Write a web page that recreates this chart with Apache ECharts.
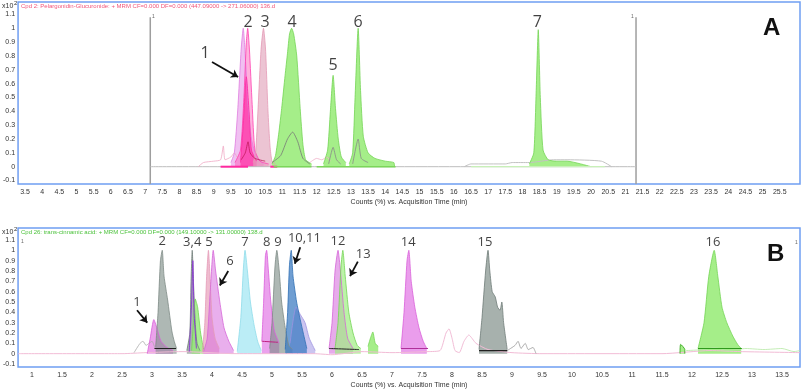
<!DOCTYPE html>
<html>
<head>
<meta charset="utf-8">
<script src="https://cdn.jsdelivr.net/npm/echarts@6/dist/echarts.min.js"></script>
<style>
  html, body { margin: 0; padding: 0; background: #fff; }
  #main { width: 803px; height: 390px; }
</style>
</head>
<body>
<div id="main"></div>
<script>
// ---- tick labels ----
var xTicksA = [3.5,4,4.5,5,5.5,6,6.5,7,7.5,8,8.5,9,9.5,10,10.5,11,11.5,12,12.5,13,13.5,14,14.5,15,15.5,16,16.5,17,17.5,18,18.5,19,19.5,20,20.5,21,21.5,22,22.5,23,23.5,24,24.5,25,25.5];
var xTicksB = [1,1.5,2,2.5,3,3.5,4,4.5,5,5.5,6,6.5,7,7.5,8,8.5,9,9.5,10,10.5,11,11.5,12,12.5,13,13.5];
var yTicks = [-0.1,0,0.1,0.2,0.3,0.4,0.5,0.6,0.7,0.8,0.9,1,1.1];

// ---- panel A : Pelargonidin-Glucuronide (time min, counts x10^2) ----
var peakA1 = [[9.5,0.03],[9.6,0.1],[9.7,0.41],[9.8,0.85],[9.86,1.0],[9.92,0.8],[10.0,0.45],[10.1,0.2],[10.25,0.07],[10.45,0.02]];
var peakA2 = [[9.62,0.03],[9.78,0.12],[9.88,0.5],[9.95,0.9],[9.99,1.0],[10.04,0.85],[10.12,0.45],[10.2,0.12],[10.35,0.04],[10.6,0.02]];
var coreA2 = [[9.78,0.03],[9.86,0.3],[9.95,0.65],[10.03,0.4],[10.1,0.12],[10.25,0.04]];
var peakA3 = [[10.15,0.03],[10.22,0.1],[10.29,0.41],[10.38,0.85],[10.45,1.0],[10.51,0.85],[10.58,0.41],[10.64,0.15],[10.7,0.04],[10.8,0.02]];
var peakA4 = [[10.7,0.02],[10.8,0.08],[10.9,0.25],[10.98,0.42],[11.08,0.66],[11.15,0.82],[11.21,0.96],[11.27,1.0],[11.33,0.96],[11.42,0.8],[11.52,0.42],[11.6,0.16],[11.68,0.05],[11.85,0.02]];
var peakA5 = [[12.2,0.02],[12.32,0.12],[12.4,0.4],[12.48,0.66],[12.55,0.42],[12.63,0.2],[12.72,0.07],[12.85,0.03]];
var peakA6 = [[12.95,0.02],[13.05,0.1],[13.12,0.5],[13.21,1.0],[13.28,0.55],[13.36,0.22],[13.5,0.1],[13.7,0.06],[14.0,0.04],[14.25,0.03],[14.27,0.0]];
var peakA7 = [[18.2,0.02],[18.33,0.1],[18.4,0.55],[18.46,0.99],[18.52,0.5],[18.6,0.12],[18.75,0.05],[19.0,0.04],[19.3,0.04],[19.7,0.02],[20.0,0.0]];
var traceA4 = [[10.7,0.03],[10.95,0.08],[11.15,0.2],[11.3,0.25],[11.45,0.18],[11.6,0.06],[11.8,0.02]];
var traceA5 = [[12.35,0.02],[12.48,0.14],[12.58,0.05],[12.7,0.02]];
var traceA6 = [[13.05,0.02],[13.21,0.2],[13.3,0.06],[13.5,0.03]];
var traceA2 = [[9.8,0.05],[9.92,0.1],[10.0,0.18],[10.06,0.1],[10.2,0.06],[10.5,0.04]];
var noiseA = [[8.55,0.0],[8.7,0.03],[9.0,0.04],[9.2,0.05],[9.28,0.15],[9.33,0.05],[9.5,0.07],[9.6,0.1],[9.7,0.06]];
var noiseA2 = [[11.8,0.03],[12.0,0.06],[12.15,0.05],[12.3,0.07],[12.4,0.04]];
var driftA = [[16.3,0.0],[16.5,0.02],[17.5,0.02],[17.7,0.03],[18.2,0.03],[18.9,0.05],[19.3,0.05],[20.3,0.04],[20.6,0.0]];
var intA1 = [[9.2,0],[10.0,0]];
var intA3 = [[10.65,0],[10.85,0]];
var intA4 = [[10.75,0],[11.85,0]];
var intA6 = [[12.0,0],[14.3,0]];
var intA7 = [[16.5,0],[20.4,0]];
var baseA = [[7.15,0],[21.31,0]];
var markerA1 = [[7.15,-0.125],[7.15,1.08]];
var markerA2 = [[21.31,-0.125],[21.31,1.08]];

// ---- panel B : trans-cinnamic acid ----
var peakB1 = [[2.92,0.0],[2.97,0.15],[3.03,0.33],[3.08,0.25],[3.15,0.12],[3.25,0.06],[3.35,0.03]];
var peakB2 = [[3.06,0.06],[3.1,0.4],[3.14,0.9],[3.17,1.0],[3.2,0.75],[3.26,0.52],[3.33,0.22],[3.37,0.12],[3.41,0.05]];
var peakB3 = [[3.58,0.03],[3.63,0.2],[3.65,0.7],[3.67,1.0],[3.69,0.7],[3.72,0.3],[3.75,0.1],[3.8,0.03]];
var peakB4 = [[3.66,0.03],[3.69,0.3],[3.72,0.53],[3.76,0.45],[3.81,0.2],[3.86,0.04]];
var lineB4 = [[3.62,0.02],[3.66,0.5],[3.68,0.9],[3.7,0.4],[3.74,0.05]];
var peakB5 = [[3.84,0.02],[3.88,0.3],[3.91,0.75],[3.94,1.0],[3.97,0.7],[4.0,0.35],[4.05,0.15],[4.12,0.05]];
var peakB6 = [[3.86,0.02],[3.92,0.15],[3.97,0.6],[4.02,1.0],[4.06,0.8],[4.13,0.5],[4.2,0.25],[4.28,0.12],[4.36,0.03]];
var peakB7 = [[4.42,0.02],[4.48,0.35],[4.52,0.8],[4.55,1.0],[4.59,0.8],[4.64,0.5],[4.7,0.28],[4.76,0.12],[4.82,0.03]];
var peakB8 = [[4.83,0.12],[4.86,0.5],[4.89,0.95],[4.91,1.0],[4.94,0.8],[4.98,0.5],[5.04,0.22],[5.12,0.1]];
var peakB9 = [[4.96,0.05],[5.0,0.3],[5.05,0.85],[5.08,1.0],[5.12,0.8],[5.16,0.5],[5.22,0.25],[5.28,0.08],[5.34,0.04]];
var peakB10 = [[5.22,0.04],[5.26,0.4],[5.29,0.85],[5.32,1.0],[5.35,0.75],[5.41,0.5],[5.47,0.33],[5.52,0.2],[5.58,0.05]];
var peakB11 = [[5.3,0.1],[5.4,0.45],[5.47,0.38],[5.55,0.3],[5.62,0.15],[5.72,0.03]];
var peakB12 = [[5.95,0.05],[6.0,0.3],[6.05,0.8],[6.1,1.0],[6.14,0.8],[6.2,0.4],[6.26,0.15],[6.35,0.05]];
var peakB13 = [[6.05,0.05],[6.1,0.3],[6.15,0.85],[6.18,1.0],[6.22,0.75],[6.28,0.4],[6.35,0.2],[6.42,0.08],[6.48,0.05]];
var bumpB13 = [[6.6,0.07],[6.64,0.15],[6.68,0.21],[6.72,0.1],[6.77,0.07]];
var peakB14 = [[7.15,0.05],[7.2,0.4],[7.25,0.9],[7.28,1.0],[7.32,0.7],[7.38,0.45],[7.45,0.25],[7.52,0.12],[7.58,0.05]];
var peakB15 = [[8.45,0.04],[8.5,0.35],[8.56,0.8],[8.6,1.0],[8.63,0.8],[8.67,0.6],[8.72,0.55],[8.76,0.45],[8.8,0.42],[8.83,0.5],[8.86,0.3],[8.92,0.04]];
var bumpB16 = [[11.8,0.0],[11.81,0.09],[11.88,0.04],[11.88,0.0]];
var peakB16 = [[12.1,0.05],[12.2,0.3],[12.28,0.75],[12.37,1.0],[12.43,0.75],[12.5,0.45],[12.58,0.3],[12.68,0.17],[12.76,0.09],[12.82,0.05]];
var baseB = [[0.77,0.0],[2.5,0.0],[2.9,0.01],[3.5,0.02],[4.4,0.0],[5.7,0.0],[6.0,-0.01],[6.5,0.02],[7.0,0.01],[7.6,0.02],[7.8,0.03],[7.9,0.2],[7.95,0.24],[8.0,0.15],[8.05,0.03],[8.12,0.01],[8.2,0.12],[8.28,0.18],[8.4,0.1],[8.6,0.04],[9.0,0.01],[9.5,0.0],[11.5,0.0],[12.3,0.03],[12.8,0.02],[13.8,0.01]];
var noiseB1 = [[2.7,0.01],[2.8,0.1],[2.85,0.12],[2.9,0.08],[2.95,0.1],[3.0,0.12],[3.05,0.05]];
var noiseB15 = [[8.92,0.03],[9.05,0.08],[9.1,0.12],[9.15,0.05],[9.22,0.1],[9.27,0.04],[9.35,0.06],[9.4,0.0]];
var noiseB16 = [[11.9,0.03],[12.2,0.04],[12.37,0.06],[12.6,0.03],[12.9,0.05],[13.2,0.04],[13.5,0.05],[13.7,0.02],[13.8,0.03]];
var intB2 = [[3.04,0.05],[3.4,0.05]];
var intB15 = [[8.45,0.03],[8.92,0.03]];
var intB14 = [[7.15,0.05],[7.6,0.05]];
var intB16 = [[12.1,0.05],[12.83,0.05]];
var intB12 = [[5.95,0.05],[6.45,0.04]];
var intB8 = [[4.83,0.12],[5.1,0.11]];

// ---- annotations ----
var labelsA = [['1',8.75,0.82],['2',10.0,1.045],['3',10.5,1.045],['4',11.28,1.045],['5',12.48,0.735],['6',13.21,1.045],['7',18.43,1.045]];
var arrowsA = [[[8.95,0.757],[9.71,0.648]]];
var labelsB = [['1',2.75,0.5],['2',3.17,1.085],['3,4',3.67,1.075],['5',3.95,1.075],['6',4.3,0.89],['7',4.55,1.075],['8',4.91,1.075],['9',5.1,1.075],['10,11',5.54,1.12],['12',6.1,1.085],['13',6.52,0.96],['14',7.27,1.075],['15',8.55,1.075],['16',12.35,1.075]];
var arrowsB = [[[2.75,0.42],[2.92,0.30]],[[4.27,0.80],[4.13,0.66]],[[5.47,1.03],[5.38,0.87]],[[6.43,0.89],[6.30,0.75]]];

var chart = echarts.init(document.getElementById('main'));

var GREEN = '#a5ee89', GREEN_L = '#74d454';
var series = [];
function trace(g, data, line, fill, w, z) {
  var s = {
    type: 'line', xAxisIndex: g, yAxisIndex: g, data: data, symbol: 'none',
    smooth: 0.2, silent: true, z: z || 2,
    lineStyle: { color: line, width: w || 0.8 }
  };
  if (fill) s.areaStyle = { color: fill, opacity: 1 };
  series.push(s);
}

// panel A
trace(0, baseA, '#bdbdbd', null, 1);
trace(0, markerA1, '#9e9e9e', null, 1.5, 1);
trace(0, markerA2, '#9e9e9e', null, 1.5, 1);
trace(0, noiseA, '#f0a8c4', null, 0.8);
trace(0, noiseA2, '#f0b0c8', null, 0.8);
trace(0, driftA, '#c2c2c2', null, 1);
trace(0, peakA1, '#e07ee0', 'rgba(226,130,228,0.5)');
trace(0, peakA2, '#ff40b0', 'rgba(255,80,180,0.45)');
trace(0, coreA2, '#ff2aa0', 'rgba(255,40,160,0.6)');
trace(0, peakA3, '#e49ab6', 'rgba(226,165,188,0.65)');
trace(0, peakA4, GREEN_L, GREEN);
trace(0, peakA5, GREEN_L, GREEN);
trace(0, peakA6, GREEN_L, GREEN);
trace(0, peakA7, GREEN_L, GREEN);
trace(0, traceA2, '#c2185b', null, 0.8, 3);
trace(0, traceA4, '#777', null, 0.8, 3);
trace(0, traceA5, '#888', null, 0.8, 3);
trace(0, traceA6, '#888', null, 0.8, 3);
trace(0, intA1, '#ff2aa0', null, 2, 4);
trace(0, intA3, '#ff2aa0', null, 2, 4);
trace(0, intA4, '#7bd65a', null, 1.5, 4);
trace(0, intA6, '#7bd65a', null, 1.5, 4);
trace(0, intA7, '#c8f0b8', null, 1.2, 4);

// panel B
trace(1, baseB, '#f2bcd6', null, 1);
trace(1, noiseB1, '#aaa', null, 0.8);
trace(1, noiseB15, '#999', null, 0.8);
trace(1, noiseB16, '#b5e8a3', null, 0.8);
trace(1, peakB1, '#d95fd9', 'rgba(222,100,222,0.6)');
trace(1, peakB2, '#7d8a85', 'rgba(125,140,134,0.62)');
trace(1, peakB3, '#6f7b77', 'rgba(125,140,134,0.65)');
trace(1, peakB4, GREEN_L, 'rgba(150,235,120,0.8)');
trace(1, lineB4, '#8b3fd0', null, 1, 3);
trace(1, peakB5, '#e59ab8', 'rgba(232,160,186,0.7)');
trace(1, peakB6, '#d566d8', 'rgba(215,110,222,0.55)');
trace(1, peakB7, '#8fdcea', 'rgba(175,234,245,0.85)');
trace(1, peakB8, '#da5fda', 'rgba(225,110,228,0.65)');
trace(1, peakB9, '#7d8a85', 'rgba(125,140,134,0.62)');
trace(1, peakB11, '#9d92e0', 'rgba(160,150,228,0.55)');
trace(1, peakB10, '#2f6fb4', 'rgba(55,120,192,0.72)');
trace(1, peakB12, '#d566d8', 'rgba(215,115,222,0.6)');
trace(1, peakB13, GREEN_L, 'rgba(160,238,130,0.7)');
trace(1, bumpB13, GREEN_L, GREEN);
trace(1, peakB14, '#d95fd9', 'rgba(225,115,228,0.7)');
trace(1, peakB15, '#6f7b77', 'rgba(125,140,134,0.68)');
trace(1, bumpB16, '#43b02a', GREEN, 1);
trace(1, peakB16, GREEN_L, GREEN);
trace(1, intB2, '#222', null, 1.2, 4);
trace(1, intB15, '#222', null, 1.2, 4);
trace(1, intB14, '#b0309a', null, 1.2, 4);
trace(1, intB16, '#2e9a1c', null, 1.2, 4);
trace(1, intB12, '#222', null, 1, 4);
trace(1, intB8, '#c02080', null, 1, 4);

function labelSeries(g, list, size) {
  series.push({
    type: 'scatter', xAxisIndex: g, yAxisIndex: g, symbolSize: 0, silent: true, z: 10,
    data: list.map(function (l) { return { name: l[0], value: [l[1], l[2]] }; }),
    label: { show: true, position: 'inside', formatter: '{b}', fontSize: size,
             fontFamily: 'Open Sans', color: '#111' }
  });
}
function arrowSeries(g, list) {
  series.push({
    type: 'lines', coordinateSystem: 'cartesian2d', xAxisIndex: g, yAxisIndex: g,
    silent: true, z: 10, symbol: ['none', 'arrow'], symbolSize: 7,
    lineStyle: { color: '#111', width: 1.8, opacity: 1 },
    data: list.map(function (a) { return { coords: a }; })
  });
}
labelSeries(0, labelsA, 16);
arrowSeries(0, arrowsA);
labelSeries(1, labelsB, 13);
arrowSeries(1, arrowsB);

function xAxis(g, min, max, ticks) {
  return {
    type: 'value', gridIndex: g, min: min, max: max,
    axisLine: { show: false }, axisTick: { show: false }, splitLine: { show: false },
    axisLabel: { customValues: ticks, fontSize: 7, color: '#333', margin: 5, fontFamily: 'Liberation Sans' },
    name: 'Counts (%) vs. Acquisition Time (min)', nameLocation: 'middle', nameGap: 15,
    nameTextStyle: { fontSize: 7, color: '#333', fontFamily: 'Liberation Sans' }
  };
}
function yAxis(g, min, max) {
  return {
    type: 'value', gridIndex: g, min: min, max: max,
    axisLine: { show: false }, axisTick: { show: false }, splitLine: { show: false },
    axisLabel: { customValues: yTicks, fontSize: 7, color: '#333', margin: 3, fontFamily: 'Liberation Sans' }
  };
}

chart.setOption({
  animation: false,
  backgroundColor: '#fff',
  grid: [
    { left: 18, top: 2, width: 782, height: 182, show: true, borderColor: '#6f9ef2', borderWidth: 1.5, backgroundColor: 'transparent' },
    { left: 18, top: 228, width: 782, height: 143, show: true, borderColor: '#6f9ef2', borderWidth: 1.5, backgroundColor: 'transparent' }
  ],
  xAxis: [xAxis(0, 3.296, 26.09, xTicksA), xAxis(1, 0.767, 13.8, xTicksB)],
  yAxis: [yAxis(0, -0.125, 1.19), yAxis(1, -0.129, 1.216)],
  series: series,
  graphic: [
    { type: 'text', left: 2, top: 3, style: { text: 'x10', fontSize: 7, fill: '#333', fontFamily: 'Liberation Sans' } },
    { type: 'text', left: 14, top: 0, style: { text: '2', fontSize: 6, fill: '#333', fontFamily: 'Liberation Sans' } },
    { type: 'text', left: 2, top: 229, style: { text: 'x10', fontSize: 7, fill: '#333', fontFamily: 'Liberation Sans' } },
    { type: 'text', left: 14, top: 226, style: { text: '2', fontSize: 6, fill: '#333', fontFamily: 'Liberation Sans' } },
    { type: 'text', left: 21, top: 3, style: { text: 'Cpd 2: Pelargonidin-Glucuronide: + MRM CF=0.000 DF=0.000 (447.09000 -> 271.06000) 136.d', fontSize: 6, fill: '#f2557a', fontFamily: 'Liberation Sans' } },
    { type: 'text', left: 21, top: 229, style: { text: 'Cpd 26: trans-cinnamic acid: + MRM CF=0.000 DF=0.000 (149.10000 -> 131.00000) 138.d', fontSize: 6, fill: '#4cc23c', fontFamily: 'Liberation Sans' } },
    { type: 'text', left: 152, top: 14, style: { text: '1', fontSize: 5, fill: '#666' } },
    { type: 'text', left: 631, top: 14, style: { text: '1', fontSize: 5, fill: '#666' } },
    { type: 'text', left: 21, top: 239, style: { text: '1', fontSize: 5, fill: '#666' } },
    { type: 'text', left: 795, top: 240, style: { text: '1', fontSize: 5, fill: '#666' } },
    { type: 'text', left: 763, top: 16, style: { text: 'A', fontSize: 24, fontWeight: 'bold', fill: '#111', fontFamily: 'Liberation Sans' } },
    { type: 'text', left: 767, top: 242, style: { text: 'B', fontSize: 24, fontWeight: 'bold', fill: '#111', fontFamily: 'Liberation Sans' } }
  ]
});
</script>
</body>
</html>
